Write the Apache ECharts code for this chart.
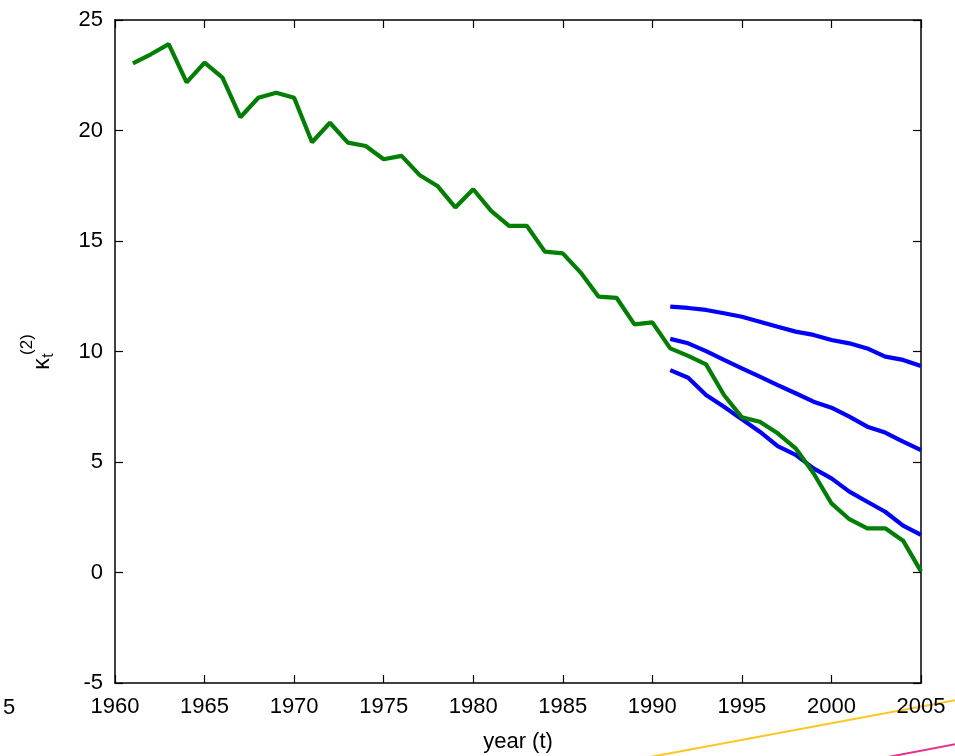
<!DOCTYPE html>
<html>
<head>
<meta charset="utf-8">
<script src="https://cdn.jsdelivr.net/npm/echarts@6/dist/echarts.min.js"></script>
<style>html,body{margin:0;padding:0;background:#fff;}#c{width:955px;height:756px;}</style>
</head>
<body>
<div id="c"></div>
<script>
// Observed kappa_t^(2), 1961-2005
var histYears = [1961,1962,1963,1964,1965,1966,1967,1968,1969,1970,1971,1972,1973,1974,1975,1976,1977,1978,1979,1980,1981,1982,1983,1984,1985,1986,1987,1988,1989,1990,1991,1992,1993,1994,1995,1996,1997,1998,1999,2000,2001,2002,2003,2004,2005];
var histValues = [23.04,23.45,23.91,22.18,23.07,22.39,20.60,21.48,21.71,21.48,19.47,20.35,19.45,19.30,18.70,18.85,17.99,17.49,16.52,17.34,16.36,15.68,15.68,14.52,14.44,13.57,12.48,12.43,11.23,11.32,10.14,9.80,9.42,8.03,7.02,6.82,6.30,5.62,4.49,3.13,2.41,2.00,2.00,1.44,0.05];
// Forecast band 1991-2005
var fcYears = [1991,1992,1993,1994,1995,1996,1997,1998,1999,2000,2001,2002,2003,2004,2005];
var fcUpper = [12.03,11.97,11.88,11.73,11.57,11.35,11.12,10.90,10.75,10.52,10.37,10.14,9.77,9.62,9.34];
var fcMiddle = [10.57,10.37,10.02,9.62,9.24,8.86,8.48,8.11,7.73,7.46,7.05,6.60,6.33,5.92,5.54];
var fcLower = [9.16,8.81,8.03,7.50,6.93,6.37,5.72,5.32,4.71,4.26,3.66,3.20,2.75,2.12,1.70];
var xTicks = [1960,1965,1970,1975,1980,1985,1990,1995,2000,2005];
var yTicks = [-5,0,5,10,15,20,25];

function pairs(xs, ys){ return xs.map(function(x,i){ return [x, ys[i]]; }); }

var FONT = 'Liberation Sans, Arial, sans-serif';
var chart = echarts.init(document.getElementById('c'), null, {renderer:'canvas'});
var axisLine = {show:true, onZero:false, lineStyle:{color:'#000', width:1.5}};
var tick = {show:true, inside:true, length:8, lineStyle:{color:'#000', width:1.2}};
var lineStyleG = {color:'#008000', width:4.2};
var lineStyleB = {color:'#0000ff', width:4.2};
var plain = function(v){ return String(v); };

chart.setOption({
  animation:false,
  backgroundColor:'#fff',
  grid:{left:115, right:34, top:20, bottom:73, containLabel:false, outerBoundsMode:'none'},
  xAxis:[{
    type:'value', min:xTicks[0], max:xTicks[xTicks.length-1], interval:5, position:'bottom',
    axisLine:axisLine, axisTick:tick, splitLine:{show:false},
    axisLabel:{color:'#000', fontSize:22, fontFamily:FONT, margin:13, formatter:plain, showMinLabel:true, showMaxLabel:true},
    name:'year (t)', nameLocation:'middle', nameGap:48,
    nameTextStyle:{color:'#000', fontSize:22, fontFamily:FONT}
  },{
    type:'value', min:xTicks[0], max:xTicks[xTicks.length-1], interval:5, position:'top',
    axisLine:axisLine, axisTick:tick, axisLabel:{show:false}, splitLine:{show:false}
  }],
  yAxis:[{
    type:'value', min:yTicks[0], max:yTicks[yTicks.length-1], interval:5, position:'left',
    axisLine:axisLine, axisTick:tick, splitLine:{show:false},
    axisLabel:{color:'#000', fontSize:22, fontFamily:FONT, margin:12, formatter:plain}
  },{
    type:'value', min:yTicks[0], max:yTicks[yTicks.length-1], interval:5, position:'right',
    axisLine:axisLine, axisTick:tick, axisLabel:{show:false}, splitLine:{show:false}
  }],
  graphic:[
    {type:'text', x:43, y:364, rotation:Math.PI/2, style:{text:'κ', font:'23px '+FONT, fill:'#000', align:'center', verticalAlign:'middle'}},
    {type:'text', x:49, y:355.5, rotation:Math.PI/2, style:{text:'t', font:'16px '+FONT, fill:'#000', align:'center', verticalAlign:'middle'}},
    {type:'text', x:27, y:344.5, rotation:Math.PI/2, style:{text:'(2)', font:'17px '+FONT, fill:'#000', align:'center', verticalAlign:'middle'}},
    {type:'text', left:3, top:697, style:{text:'5', font:'22px '+FONT, fill:'#000'}},
    {type:'line', shape:{x1:650, y1:757, x2:956, y2:700}, style:{stroke:'#ffc61e', lineWidth:2}},
    {type:'line', shape:{x1:888, y1:757, x2:956, y2:744}, style:{stroke:'#e8308c', lineWidth:2}}
  ],
  series:[
    {type:'line', data:pairs(histYears, histValues), showSymbol:false, symbol:'none', lineStyle:lineStyleG, z:3},
    {type:'line', data:pairs(fcYears, fcUpper), showSymbol:false, symbol:'none', lineStyle:lineStyleB, z:2},
    {type:'line', data:pairs(fcYears, fcMiddle), showSymbol:false, symbol:'none', lineStyle:lineStyleB, z:2},
    {type:'line', data:pairs(fcYears, fcLower), showSymbol:false, symbol:'none', lineStyle:lineStyleB, z:2}
  ]
});
</script>
</body>
</html>
